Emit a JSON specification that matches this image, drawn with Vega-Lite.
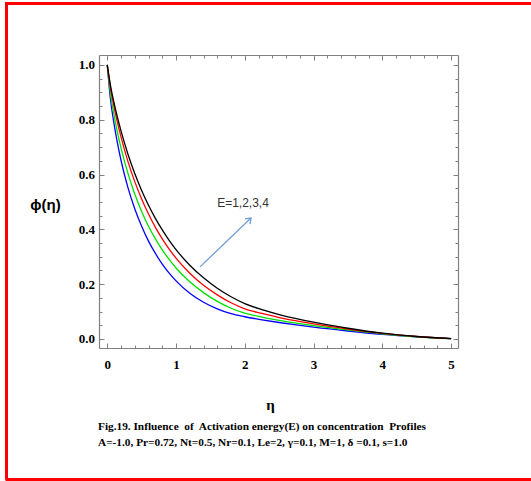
{
  "$schema": "https://vega.github.io/schema/vega-lite/v6.json",
  "autosize": "none",
  "width": 525,
  "height": 476,
  "padding": {"left": 6, "top": 3, "right": 0, "bottom": 2},
  "background": "white",
  "config": {
    "view": {"stroke": null},
    "axis": {"grid": false, "tickColor": "#808080", "domainColor": "#808080", "tickWidth": 1, "domainWidth": 1.2,
             "labelFont": "Liberation Serif", "labelFontWeight": "bold", "labelFontSize": 13, "labelColor": "black"}
  },
  "title": {
    "text": ["Fig.19. Influence\u00a0 of\u00a0 Activation energy(E) on concentration\u00a0 Profiles", "A=-1.0, Pr=0.72, Nt=0.5, Nr=0.1, Le=2, γ=0.1, M=1, δ =0.1, s=1.0"],
    "anchor": "start", "frame": "group", "orient": "top", "offset": 0, "baseline": "top",
    "dx": 92, "dy": 445, "font": "Liberation Serif", "fontWeight": "bold", "fontSize": 11.3, "lineHeight": 16, "color": "black"
  },
  "datasets": {
    "curves": [
      {"eta":0,"phi":1,"E":1},{"eta":0.05,"phi":0.868,"E":1},{"eta":0.1,"phi":0.783,"E":1},{"eta":0.2,"phi":0.652,"E":1},{"eta":0.3,"phi":0.553,"E":1},{"eta":0.4,"phi":0.475,"E":1},{"eta":0.5,"phi":0.411,"E":1},{"eta":0.6,"phi":0.357,"E":1},{"eta":0.7,"phi":0.312,"E":1},{"eta":0.8,"phi":0.273,"E":1},{"eta":0.9,"phi":0.240,"E":1},{"eta":1.0,"phi":0.212,"E":1},{"eta":1.2,"phi":0.167,"E":1},{"eta":1.4,"phi":0.134,"E":1},{"eta":1.6,"phi":0.110,"E":1},{"eta":1.8,"phi":0.092,"E":1},{"eta":2.0,"phi":0.081,"E":1},{"eta":2.25,"phi":0.070,"E":1},{"eta":2.5,"phi":0.060,"E":1},{"eta":2.75,"phi":0.051,"E":1},{"eta":3.0,"phi":0.043,"E":1},{"eta":3.5,"phi":0.029,"E":1},{"eta":4.0,"phi":0.017,"E":1},{"eta":4.5,"phi":0.008,"E":1},{"eta":5.0,"phi":0.001,"E":1},
      {"eta":0,"phi":1,"E":2},{"eta":0.05,"phi":0.891,"E":2},{"eta":0.1,"phi":0.815,"E":2},{"eta":0.2,"phi":0.697,"E":2},{"eta":0.3,"phi":0.605,"E":2},{"eta":0.4,"phi":0.529,"E":2},{"eta":0.5,"phi":0.465,"E":2},{"eta":0.6,"phi":0.411,"E":2},{"eta":0.7,"phi":0.365,"E":2},{"eta":0.8,"phi":0.325,"E":2},{"eta":0.9,"phi":0.290,"E":2},{"eta":1.0,"phi":0.259,"E":2},{"eta":1.2,"phi":0.2085,"E":2},{"eta":1.4,"phi":0.169,"E":2},{"eta":1.6,"phi":0.137,"E":2},{"eta":1.8,"phi":0.112,"E":2},{"eta":2.0,"phi":0.094,"E":2},{"eta":2.25,"phi":0.080,"E":2},{"eta":2.5,"phi":0.068,"E":2},{"eta":2.75,"phi":0.058,"E":2},{"eta":3.0,"phi":0.049,"E":2},{"eta":3.5,"phi":0.033,"E":2},{"eta":4.0,"phi":0.019,"E":2},{"eta":4.5,"phi":0.008,"E":2},{"eta":5.0,"phi":0.001,"E":2},
      {"eta":0,"phi":1,"E":3},{"eta":0.05,"phi":0.911,"E":3},{"eta":0.1,"phi":0.845,"E":3},{"eta":0.2,"phi":0.737,"E":3},{"eta":0.3,"phi":0.648,"E":3},{"eta":0.4,"phi":0.574,"E":3},{"eta":0.5,"phi":0.511,"E":3},{"eta":0.6,"phi":0.456,"E":3},{"eta":0.7,"phi":0.407,"E":3},{"eta":0.8,"phi":0.365,"E":3},{"eta":0.9,"phi":0.328,"E":3},{"eta":1.0,"phi":0.295,"E":3},{"eta":1.2,"phi":0.240,"E":3},{"eta":1.4,"phi":0.196,"E":3},{"eta":1.6,"phi":0.161,"E":3},{"eta":1.8,"phi":0.132,"E":3},{"eta":2.0,"phi":0.110,"E":3},{"eta":2.25,"phi":0.093,"E":3},{"eta":2.5,"phi":0.078,"E":3},{"eta":2.75,"phi":0.066,"E":3},{"eta":3.0,"phi":0.055,"E":3},{"eta":3.5,"phi":0.036,"E":3},{"eta":4.0,"phi":0.020,"E":3},{"eta":4.5,"phi":0.009,"E":3},{"eta":5.0,"phi":0.001,"E":3},
      {"eta":0,"phi":1,"E":4},{"eta":0.05,"phi":0.921,"E":4},{"eta":0.1,"phi":0.860,"E":4},{"eta":0.2,"phi":0.759,"E":4},{"eta":0.3,"phi":0.675,"E":4},{"eta":0.4,"phi":0.604,"E":4},{"eta":0.5,"phi":0.542,"E":4},{"eta":0.6,"phi":0.488,"E":4},{"eta":0.7,"phi":0.440,"E":4},{"eta":0.8,"phi":0.398,"E":4},{"eta":0.9,"phi":0.360,"E":4},{"eta":1.0,"phi":0.326,"E":4},{"eta":1.2,"phi":0.269,"E":4},{"eta":1.4,"phi":0.223,"E":4},{"eta":1.6,"phi":0.185,"E":4},{"eta":1.8,"phi":0.154,"E":4},{"eta":2.0,"phi":0.129,"E":4},{"eta":2.25,"phi":0.107,"E":4},{"eta":2.5,"phi":0.089,"E":4},{"eta":2.75,"phi":0.074,"E":4},{"eta":3.0,"phi":0.061,"E":4},{"eta":3.5,"phi":0.039,"E":4},{"eta":4.0,"phi":0.021,"E":4},{"eta":4.5,"phi":0.009,"E":4},{"eta":5.0,"phi":0.001,"E":4}
    ],
    "label": [{"eta": 1.974, "phi": 0.496, "text": "E=1,2,3,4"}],
    "arrow": [{"eta": 1.349, "phi": 0.263, "eta2": 2.09, "phi2": 0.441}]
  },
  "resolve": {"scale": {"x": "independent", "y": "independent"}, "axis": {"x": "independent", "y": "independent"}},
  "layer": [
    {
      "data": {"name": "curves"},
      "mark": {"type": "line", "interpolate": "monotone", "strokeWidth": 1.3},
      "encoding": {
        "x": {"field": "eta", "type": "quantitative",
              "scale": {"domain": [-0.12, 5.1], "range": [93, 452], "nice": false, "zero": false},
              "axis": {"orient": "bottom", "offset": -131, "values": [0,1,2,3,4,5], "format": "d", "tickSize": -5, "labelPadding": 15,
                       "title": "η", "titleFont": "Liberation Serif", "titleFontWeight": "bold", "titleFontSize": 15, "titleColor": "black",
                       "titleX": 264, "titleY": 56, "titleAlign": "center", "titleBaseline": "middle", "titleAngle": 0}},
        "y": {"field": "phi", "type": "quantitative",
              "scale": {"domain": [-0.033, 1.036], "range": [345, 52], "nice": false, "zero": false},
              "axis": {"orient": "left", "offset": -93, "values": [0,0.2,0.4,0.6,0.8,1.0], "format": ".1f", "tickSize": -5, "labelPadding": 9.5,
                       "title": "ϕ(η)", "titleFont": "Liberation Sans", "titleFontWeight": "bold", "titleFontSize": 15, "titleColor": "black",
                       "titleX": -54, "titleY": 201, "titleAlign": "center", "titleBaseline": "middle", "titleAngle": 0}},
        "color": {"field": "E", "type": "nominal", "scale": {"domain": [1,2,3,4], "range": ["#0000ff", "#00e000", "#ff0000", "#000000"]}, "legend": null}
      }
    },
    {
      "data": {"name": "label"},
      "mark": {"type": "text", "font": "Liberation Sans", "fontSize": 12, "color": "#333333", "align": "center", "baseline": "middle"},
      "encoding": {
        "x": {"field": "eta", "type": "quantitative",
              "scale": {"domain": [-0.12, 5.1], "range": [93, 452], "nice": false, "zero": false},
              "axis": {"orient": "bottom", "offset": -131, "values": [0.2,0.4,0.6,0.8,1.2,1.4,1.6,1.8,2.2,2.4,2.6,2.8,3.2,3.4,3.6,3.8,4.2,4.4,4.6,4.8], "tickSize": -3, "labels": false, "domain": false, "title": null}},
        "y": {"field": "phi", "type": "quantitative",
              "scale": {"domain": [-0.033, 1.036], "range": [345, 52], "nice": false, "zero": false},
              "axis": {"orient": "left", "offset": -93, "values": [0.05,0.1,0.15,0.25,0.3,0.35,0.45,0.5,0.55,0.65,0.7,0.75,0.85,0.9,0.95], "tickSize": -3, "labels": false, "domain": false, "title": null}},
        "text": {"field": "text"}
      }
    },
    {
      "data": {"name": "arrow"},
      "mark": {"type": "rule", "color": "#6f9fd6", "strokeWidth": 1.3},
      "encoding": {
        "x": {"field": "eta", "type": "quantitative",
              "scale": {"domain": [-0.12, 5.1], "range": [93, 452], "nice": false, "zero": false},
              "axis": {"orient": "top", "offset": -52, "values": [0,1,2,3,4,5], "tickSize": -5, "labels": false, "domain": true, "title": null}},
        "y": {"field": "phi", "type": "quantitative",
              "scale": {"domain": [-0.033, 1.036], "range": [345, 52], "nice": false, "zero": false},
              "axis": {"orient": "right", "offset": -73, "values": [0,0.2,0.4,0.6,0.8,1.0], "tickSize": -5, "labels": false, "domain": true, "title": null}},
        "x2": {"field": "eta2"},
        "y2": {"field": "phi2"}
      }
    },
    {
      "data": {"name": "arrow"},
      "mark": {"type": "point", "shape": "M-0.6,0.8L0,0L0.6,0.8", "filled": false, "color": "#6f9fd6", "strokeWidth": 1.3, "size": 150, "angle": 46, "opacity": 1},
      "encoding": {
        "x": {"field": "eta2", "type": "quantitative",
              "scale": {"domain": [-0.12, 5.1], "range": [93, 452], "nice": false, "zero": false},
              "axis": {"orient": "top", "offset": -52, "values": [0.2,0.4,0.6,0.8,1.2,1.4,1.6,1.8,2.2,2.4,2.6,2.8,3.2,3.4,3.6,3.8,4.2,4.4,4.6,4.8], "tickSize": -3, "labels": false, "domain": false, "title": null}},
        "y": {"field": "phi2", "type": "quantitative",
              "scale": {"domain": [-0.033, 1.036], "range": [345, 52], "nice": false, "zero": false},
              "axis": {"orient": "right", "offset": -73, "values": [0.05,0.1,0.15,0.25,0.3,0.35,0.45,0.5,0.55,0.65,0.7,0.75,0.85,0.9,0.95], "tickSize": -3, "labels": false, "domain": false, "title": null}}
      }
    },
    {
      "data": {"name": "arrow"},
      "mark": {"type": "point", "opacity": 0},
      "encoding": {
        "x": {"field": "eta", "type": "quantitative",
              "scale": {"domain": [0, 1], "range": [0.5, 540], "nice": false, "zero": false},
              "axis": {"orient": "top", "offset": 0, "ticks": false, "labels": false, "domain": true, "domainColor": "#ff0000", "domainWidth": 3, "title": null}},
        "y": {"field": "phi", "type": "quantitative",
              "scale": {"domain": [0, 1], "range": [476, -1.5], "nice": false, "zero": false},
              "axis": {"orient": "left", "offset": 0, "ticks": false, "labels": false, "domain": true, "domainColor": "#ff0000", "domainWidth": 3, "title": null}}
      }
    },
    {
      "data": {"name": "arrow"},
      "mark": {"type": "point", "opacity": 0},
      "encoding": {
        "x": {"field": "eta", "type": "quantitative",
              "scale": {"domain": [0, 1], "range": [-1, 540], "nice": false, "zero": false},
              "axis": {"orient": "bottom", "offset": 0, "ticks": false, "labels": false, "domain": true, "domainColor": "#ff0000", "domainWidth": 3, "title": null}}
      }
    }
  ]
}
